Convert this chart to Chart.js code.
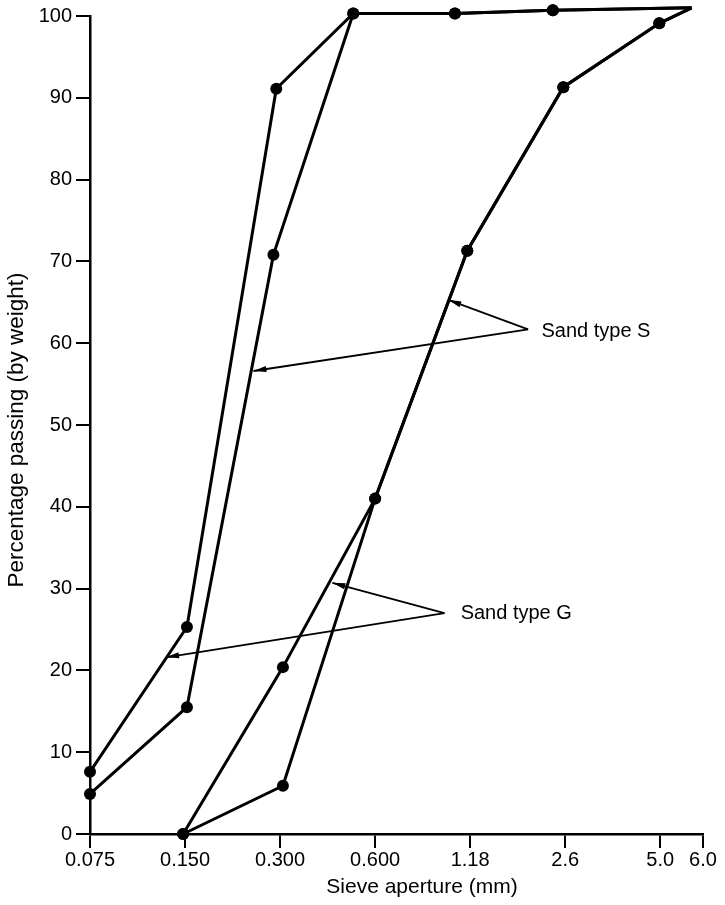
<!DOCTYPE html>
<html>
<head>
<meta charset="utf-8">
<script src="https://cdn.jsdelivr.net/npm/chart.js@4.4.1/dist/chart.umd.min.js"></script>
<style>
  html, body { margin: 0; padding: 0; background: #fff; }
  #wrap { width: 725px; height: 905px; position: relative; }
</style>
</head>
<body>
<div id="wrap"><canvas id="c" width="725" height="905"></canvas></div>
<script>
// ---- Data ----
// x axis: sieve positions (0 = 0.075 mm, 1 = 0.150, ... 6 = 5.0, 6.45 = 6.0)
const sieveLabels   = ['0.075', '0.150', '0.300', '0.600', '1.18', '2.6', '5.0', '6.0'];
const tickPositions = [0, 1, 2, 3, 4, 5, 6, 6.45];
const yTicks        = [0, 10, 20, 30, 40, 50, 60, 70, 80, 90, 100];

// Sand type G – fine limit (upper-left curve)
const gUpperX = [0, 1.02, 1.96, 2.77, 3.84, 4.87, 6.33];
const gUpperY = [7.6, 25.3, 91.1, 100.3, 100.3, 100.7, 101];
// Sand type S – fine limit
const sUpperX = [0, 1.02, 1.93, 2.77, 3.84, 4.87, 6.33];
const sUpperY = [4.9, 15.5, 70.8, 100.3, 100.3, 100.7, 101];
// Sand type G – coarse limit
const gLowerX = [0.98, 2.03, 3.0, 3.97, 4.98, 5.99, 6.33];
const gLowerY = [0, 20.4, 41.0, 71.3, 91.3, 99.1, 101];
// Sand type S – coarse limit
const sLowerX = [0.98, 2.03, 3.0, 3.97, 4.98, 5.99, 6.33];
const sLowerY = [0, 5.9, 41.0, 71.3, 91.3, 99.1, 101];

// Annotations (data units): label, label anchor, apex, arrow tips
const annoLabels = ['Sand type S', 'Sand type G'];
const annoText   = [[4.75, 61.4], [3.90, 26.9]];
const annoApex   = [[4.61, 61.7], [3.73, 27.0]];
const annoTips   = [[[3.77, 65.3], [1.72, 56.6]], [[2.55, 30.7], [0.80, 21.6]]];

const xTitle = 'Sieve aperture (mm)';
const yTitle = 'Percentage passing (by weight)';

// ---- Build ----
const FONT = '"Liberation Sans", Arial, Helvetica, sans-serif';
function pts(xs, ys) { return xs.map((x, i) => ({ x: x, y: ys[i] })); }
function ds(label, xs, ys) {
  return {
    label: label,
    data: pts(xs, ys),
    borderColor: '#000',
    backgroundColor: '#000',
    borderWidth: 3,
    pointRadius: 6,
    pointHoverRadius: 6,
    pointBackgroundColor: '#000',
    pointBorderWidth: 0,
    tension: 0,
    clip: false
  };
}

const annotPlugin = {
  id: 'annot',
  afterDatasetsDraw(chart) {
    const ctx = chart.ctx;
    const xs = chart.scales.x, ys = chart.scales.y;
    ctx.save();
    ctx.strokeStyle = '#000';
    ctx.fillStyle = '#000';
    ctx.lineWidth = 1.8;
    annoLabels.forEach((lab, i) => {
      const ax = xs.getPixelForValue(annoApex[i][0]);
      const ay = ys.getPixelForValue(annoApex[i][1]);
      annoTips[i].forEach(t => {
        const tx = xs.getPixelForValue(t[0]);
        const ty = ys.getPixelForValue(t[1]);
        ctx.beginPath();
        ctx.moveTo(ax, ay);
        ctx.lineTo(tx, ty);
        ctx.stroke();
        const ang = Math.atan2(ay - ty, ax - tx);
        const L = 13, W = 3;
        ctx.beginPath();
        ctx.moveTo(tx, ty);
        ctx.lineTo(tx + L * Math.cos(ang) - W * Math.sin(ang), ty + L * Math.sin(ang) + W * Math.cos(ang));
        ctx.lineTo(tx + L * Math.cos(ang) + W * Math.sin(ang), ty + L * Math.sin(ang) - W * Math.cos(ang));
        ctx.closePath();
        ctx.fill();
      });
      ctx.font = '20px ' + FONT;
      ctx.textAlign = 'left';
      ctx.textBaseline = 'middle';
      ctx.fillText(lab, xs.getPixelForValue(annoText[i][0]), ys.getPixelForValue(annoText[i][1]));
    });
    // axis titles
    ctx.font = '21px ' + FONT;
    ctx.textAlign = 'center';
    ctx.textBaseline = 'middle';
    ctx.fillText(xTitle, 422, 887);
    ctx.translate(17, 430);
    ctx.rotate(-Math.PI / 2);
    ctx.font = '22.5px ' + FONT;
    ctx.fillText(yTitle, 0, 0);
    ctx.restore();
  }
};

new Chart(document.getElementById('c'), {
  type: 'line',
  data: {
    datasets: [
      ds('Sand type G (fine limit)', gUpperX, gUpperY),
      ds('Sand type S (fine limit)', sUpperX, sUpperY),
      ds('Sand type G (coarse limit)', gLowerX, gLowerY),
      ds('Sand type S (coarse limit)', sLowerX, sLowerY)
    ]
  },
  options: {
    responsive: false,
    animation: false,
    events: [],
    layout: { padding: { top: 16, right: 22, left: 0, bottom: 0 } },
    plugins: { legend: { display: false }, tooltip: { enabled: false }, title: { display: false } },
    scales: {
      x: {
        type: 'linear',
        min: tickPositions[0],
        max: tickPositions[tickPositions.length - 1],
        afterFit(s) { s.height = 71; },
        afterBuildTicks(s) { s.ticks = tickPositions.map(v => ({ value: v })); },
        ticks: {
          autoSkip: false,
          maxRotation: 0,
          padding: 0,
          color: '#000',
          font: { family: FONT, size: 20 },
          callback(v) { const i = tickPositions.indexOf(v); return i >= 0 ? sieveLabels[i] : ''; }
        },
        grid: { display: true, drawOnChartArea: false, drawTicks: true, tickLength: 14, color: '#000', lineWidth: 2 },
        border: { display: true, color: '#000', width: 2.5 },
        title: { display: false }
      },
      y: {
        type: 'linear',
        min: 0,
        max: 100,
        afterFit(s) { s.width = 90; },
        afterBuildTicks(s) { s.ticks = yTicks.map(v => ({ value: v })); },
        ticks: {
          padding: 4,
          color: '#000',
          font: { family: FONT, size: 20 },
          callback(v) { return String(v); }
        },
        grid: { display: true, drawOnChartArea: false, drawTicks: true, tickLength: 14, color: '#000', lineWidth: 2 },
        border: { display: true, color: '#000', width: 2.5 },
        title: { display: false }
      }
    }
  },
  plugins: [annotPlugin]
});
</script>
</body>
</html>
